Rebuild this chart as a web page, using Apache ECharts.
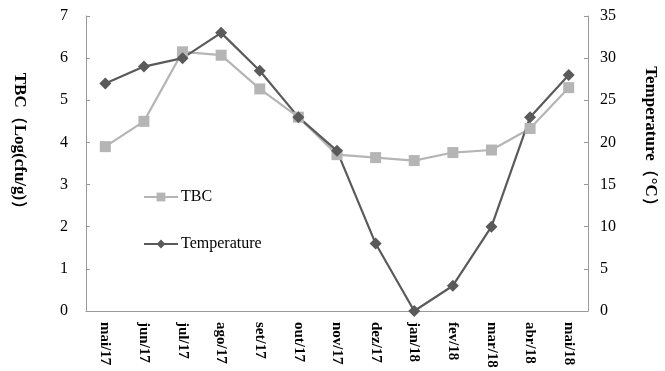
<!DOCTYPE html>
<html><head><meta charset="utf-8">
<script src="https://cdn.jsdelivr.net/npm/echarts@6/dist/echarts.min.js"></script>
<style>html,body{margin:0;padding:0;background:#fff}#c{width:665px;height:371px}</style>
</head><body><div id="c"></div>
<script>
const categories = ['mai/17','jun/17','jul/17','ago/17','set/17','out/17','nov/17','dez/17','jan/18','fev/18','mar/18','abr/18','mai/18'];
const tbc = [3.9, 4.5, 6.15, 6.07, 5.27, 4.6, 3.71, 3.64, 3.57, 3.76, 3.82, 4.33, 5.3];
const temperature = [27, 29, 30, 33, 28.5, 23, 19, 8, 0, 3, 10, 23, 28];
const leftName = 'TBC（Log(cfu/g)）';
const rightName = 'Temperature（°C）';
const font = 'Liberation Serif';
const chart = echarts.init(document.getElementById('c'));
chart.setOption({
  animation: false,
  textStyle: {fontFamily: font},
  grid: {left: 86, right: 77, top: 16, bottom: 60, outerBoundsMode: 'none', containLabel: false},
  legend: {
    orient: 'vertical', left: 143, top: 189, padding: 0, itemGap: 31, itemWidth: 34, itemHeight: 11,
    textStyle: {fontFamily: font, fontSize: 16, color: '#000', padding: [0, 0, 0, -2]},
    data: ['TBC', 'Temperature']
  },
  graphic: [{
    type: 'text', x: 19, y: 145, rotation: -Math.PI / 2,
    style: {text: leftName, font: 'bold 17px "Liberation Serif"', fill: '#000', textAlign: 'center', textVerticalAlign: 'middle'}
  }, {
    type: 'text', x: 650, y: 140, rotation: -Math.PI / 2,
    style: {text: rightName, font: 'bold 17px "Liberation Serif"', fill: '#000', textAlign: 'center', textVerticalAlign: 'middle'}
  }],
  xAxis: {
    type: 'category', data: categories, boundaryGap: true,
    axisLine: {lineStyle: {color: '#999'}},
    axisTick: {inside: true, length: 4, lineStyle: {color: '#999'}},
    axisLabel: {rotate: -90, fontFamily: font, fontWeight: 'bold', fontSize: 15, color: '#000', margin: 11}
  },
  yAxis: [{
    type: 'value', min: 0, max: 7, interval: 1,
    axisLine: {show: true, lineStyle: {color: '#999'}},
    axisTick: {show: true, inside: true, length: 4, lineStyle: {color: '#999'}},
    splitLine: {show: false},
    axisLabel: {fontFamily: font, fontSize: 16, color: '#000', margin: 18}
  }, {
    type: 'value', min: 0, max: 35, interval: 5, position: 'right',
    axisLine: {show: true, lineStyle: {color: '#999'}},
    axisTick: {show: true, inside: true, length: 4, lineStyle: {color: '#999'}},
    splitLine: {show: false},
    axisLabel: {fontFamily: font, fontSize: 16, color: '#000', margin: 12}
  }],
  series: [{
    name: 'TBC', type: 'line', yAxisIndex: 0, data: tbc,
    symbol: 'rect', symbolSize: 11,
    lineStyle: {color: '#b5b5b5', width: 2.2},
    itemStyle: {color: '#b5b5b5'}
  }, {
    name: 'Temperature', type: 'line', yAxisIndex: 1, data: temperature,
    symbol: 'diamond', symbolSize: 12,
    lineStyle: {color: '#5a5a5a', width: 2.2},
    itemStyle: {color: '#5a5a5a'}
  }]
});
</script></body></html>
